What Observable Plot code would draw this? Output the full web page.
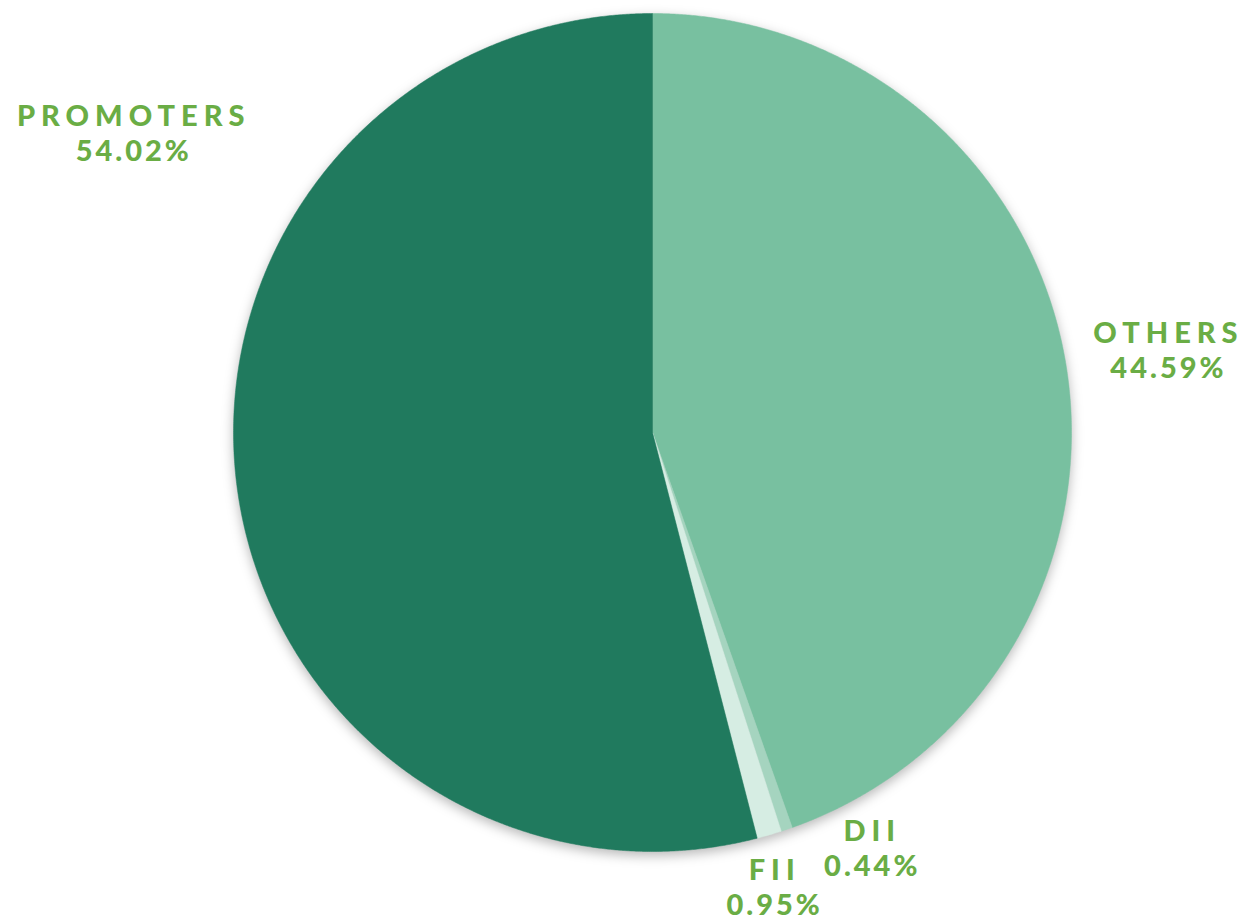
<!DOCTYPE html>
<html>
<head>
<meta charset="utf-8">
<script src="https://cdn.jsdelivr.net/npm/d3@7"></script>
<script src="https://cdn.jsdelivr.net/npm/@observablehq/plot@0.6"></script>
<style>
  html, body { margin: 0; padding: 0; background: #ffffff; }
  #chart svg { display: block; }
  .lbl text { letter-spacing: 3px; }
  .lbl tspan.nm { letter-spacing: 6px; }
</style>
</head>
<body>
<div id="chart"></div>
<script>
// ---- data (clockwise from 12 o'clock) ----
const categories = ["OTHERS", "DII", "FII", "PROMOTERS"];
const shares = [44.59, 0.44, 0.95, 54.02];
const percentLabels = ["44.59%", "0.44%", "0.95%", "54.02%"];
const sliceColors = ["#78c0a0", "#a5d4bf", "#d6ede3", "#207a5e"];

// ---- layout ----
const W = 1250, H = 921;
const cx = 652, cy = 432, R = 419;
const labelAngle = [82.0, 152.9, 165.5, 299.1];   // degrees clockwise from north
const labelDist = [519, 478, 480, 596];
const labelColor = "#6aad45";

const pie = d3.pie().sort(null).value(d => d)(shares);

// polygon points for each slice (center + points along the arc)
const rows = [];
pie.forEach((p, i) => {
  const a0 = p.startAngle, a1 = p.endAngle;
  const n = Math.max(2, Math.ceil((a1 - a0) / (Math.PI / 720)));
  rows.push({cat: categories[i], x: cx, y: cy});
  for (let k = 0; k <= n; k++) {
    const a = a0 + (a1 - a0) * k / n;
    rows.push({cat: categories[i], x: cx + R * Math.sin(a), y: cy - R * Math.cos(a)});
  }
  rows.push({cat: categories[i], x: cx, y: cy});
});

const labels = categories.map((c, i) => {
  const a = labelAngle[i] * Math.PI / 180;
  const ax = cx + labelDist[i] * Math.sin(a);
  const ay = cy - labelDist[i] * Math.cos(a);
  return {text: c + "\n" + percentLabels[i], x: ax, y: ay};
});

const chart = Plot.plot({
  width: W,
  height: H,
  margin: 0,
  x: {domain: [0, W], range: [0, W], axis: null},
  y: {domain: [0, H], range: [0, H], axis: null},
  color: {domain: categories, range: sliceColors},
  style: {background: "#ffffff", fontFamily: "Lato, 'Noto Sans', sans-serif"},
  marks: [
    Plot.line(rows, {x: "x", y: "y", z: "cat", fill: "cat", stroke: "cat", strokeWidth: 0.5}),
    Plot.text(labels, {x: "x", y: d => d.y + 18, text: "text", fill: labelColor, fontSize: 29, fontWeight: 900, textAnchor: "middle", lineAnchor: "bottom", lineHeight: 35 / 29, dx: 2})
  ]
});

chart.querySelectorAll("g[aria-label='line']").forEach(g => {
  g.style.filter = "drop-shadow(0px 4px 6px rgba(0,0,0,0.28))";
});
chart.querySelectorAll("g[aria-label='text']").forEach(g => {
  g.classList.add("lbl");
  g.querySelectorAll("text").forEach(t => {
    const ts = t.querySelectorAll("tspan");
    if (ts[0]) ts[0].classList.add("nm");
  });
});

document.getElementById("chart").appendChild(chart);
</script>
</body>
</html>
